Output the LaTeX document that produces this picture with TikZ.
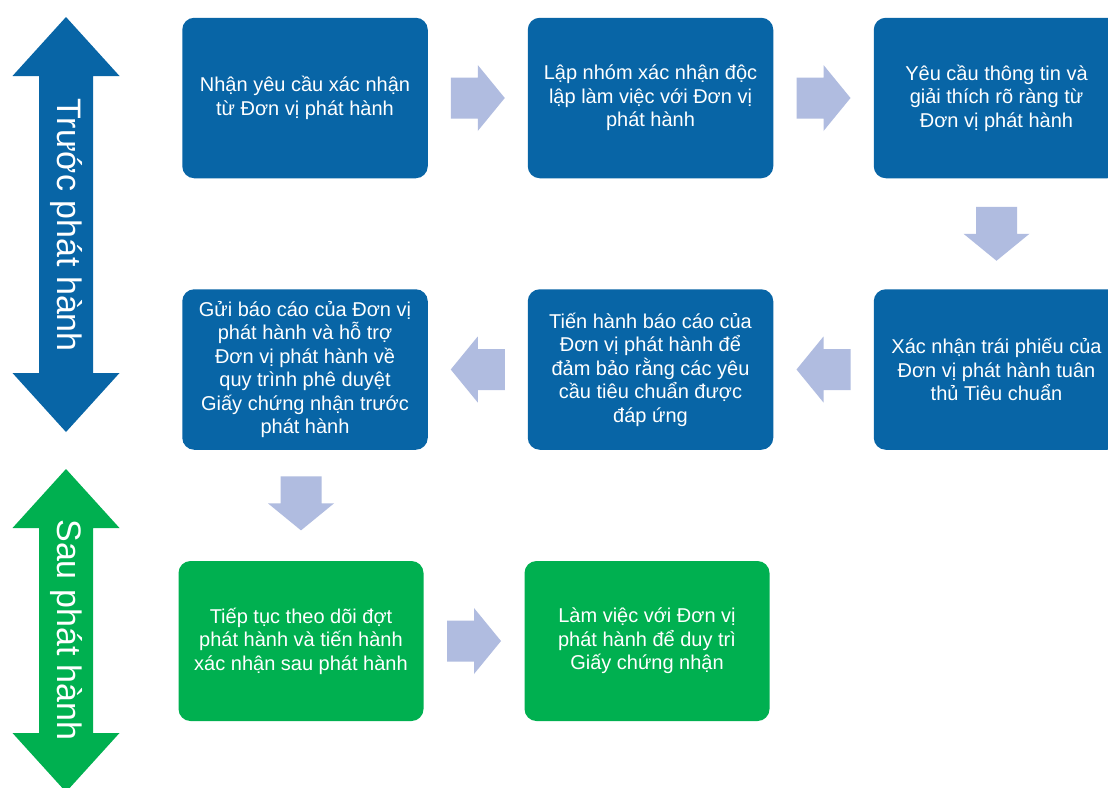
\documentclass[tikz,border=0pt]{standalone}
\usepackage{fontspec}
\setmainfont{Liberation Sans}
\usetikzlibrary{calc}
\definecolor{boxblue}{RGB}{8,101,166}
\definecolor{boxgreen}{RGB}{0,176,80}
\definecolor{arrowc}{RGB}{176,188,224}
\tikzset{
  stepbox/.style={rectangle, rounded corners=12pt, inner sep=0pt, align=center,
    text=white, font=\fontsize{20}{23.5}\selectfont},
  bluebox/.style={stepbox, fill=boxblue, minimum width=245.5pt, minimum height=160.5pt},
  greenbox/.style={stepbox, fill=boxgreen, minimum width=245pt, minimum height=160pt},
  sidelabel/.style={rotate=-90, text=white, inner sep=0pt, font=\fontsize{34}{34}\selectfont},
  blockarr/.pic={\fill[arrowc] (-27,-20.5) -- (0,-20.5) -- (0,-33) -- (27,0) -- (0,33) -- (0,20.5) -- (-27,20.5) -- cycle;}
}
\begin{document}
\begin{tikzpicture}[x=1pt,y=-1pt]
\clip (0,0) rectangle (1108,787);
\fill[white] (0,0) rectangle (1108,787);
% side arrows
\fill[boxblue] (66,17) -- (119.5,76) -- (93,76) -- (93,373) -- (119.5,373) -- (66,432) -- (12.5,373) -- (39,373) -- (39,76) -- (12.5,76) -- cycle;
\node[sidelabel] (before) at (66,225) {Trước phát hành};
\fill[boxgreen] (66,469) -- (119.5,528) -- (93,528) -- (93,733) -- (119.5,733) -- (66,792) -- (12.5,733) -- (39,733) -- (39,528) -- (12.5,528) -- cycle;
\node[sidelabel] (after) at (66,630) {Sau phát hành};
% boxes
\node[bluebox] (b1) at (305,98) {Nhận yêu cầu xác nhận\\từ Đơn vị phát hành};
\node[bluebox] (b2) at (650.5,98) {Lập nhóm xác nhận độc\\lập làm việc với Đơn vị\\phát hành};
\node[bluebox] (b3) at (996.5,98) {Yêu cầu thông tin và\\giải thích rõ ràng từ\\Đơn vị phát hành};
\node[bluebox] (b4) at (996.5,369.5) {Xác nhận trái phiếu của\\Đơn vị phát hành tuân\\thủ Tiêu chuẩn};
\node[bluebox] (b5) at (650.5,369.5) {Tiến hành báo cáo của\\Đơn vị phát hành để\\đảm bảo rằng các yêu\\cầu tiêu chuẩn được\\đáp ứng};
\node[bluebox] (b6) at (305,369.5) {Gửi báo cáo của Đơn vị\\phát hành và hỗ trợ\\Đơn vị phát hành về\\quy trình phê duyệt\\Giấy chứng nhận trước\\phát hành};
\node[greenbox] (g1) at (301,641) {Tiếp tục theo dõi đợt\\phát hành và tiến hành\\xác nhận sau phát hành};
\node[greenbox] (g2) at (647,641) {Làm việc với Đơn vị\\phát hành để duy trì\\Giấy chứng nhận};
% block arrows
\pic at ($(b1.east)!0.5!(b2.west)$) {blockarr};
\pic at ($(b2.east)!0.5!(b3.west)$) {blockarr};
\pic[rotate=-90] at ($(b3.south)!0.5!(b4.north)$) {blockarr};
\pic[rotate=180] at ($(b4.west)!0.5!(b5.east)$) {blockarr};
\pic[rotate=180] at ($(b5.west)!0.5!(b6.east)$) {blockarr};
\pic[rotate=-90] at ($(b6.south)!0.5!(g1.north)+(-2,-2)$) {blockarr};
\pic at ($(g1.east)!0.5!(g2.west)$) {blockarr};
\end{tikzpicture}
\end{document}
